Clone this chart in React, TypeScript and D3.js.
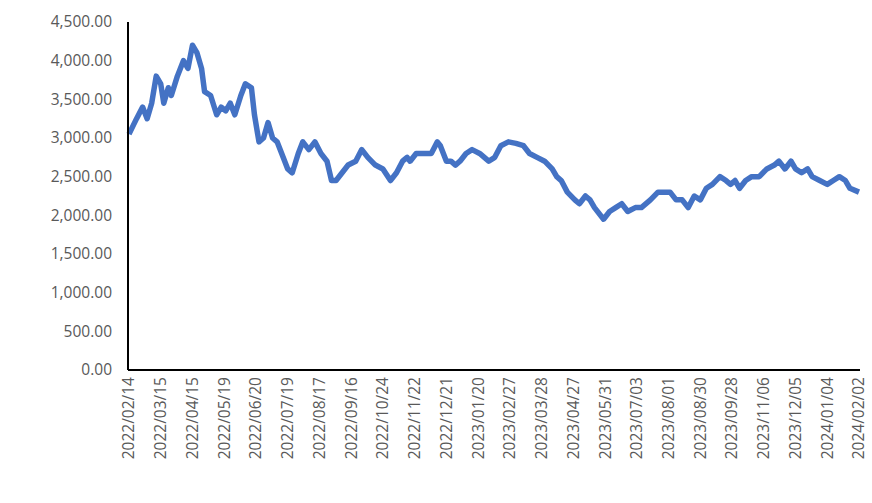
import React from "react";
import * as d3 from "d3";

const xLabels = ["2022/02/14","2022/03/15","2022/04/15","2022/05/19","2022/06/20","2022/07/19","2022/08/17","2022/09/16","2022/10/24","2022/11/22","2022/12/21","2023/01/20","2023/02/27","2023/03/28","2023/04/27","2023/05/31","2023/07/03","2023/08/01","2023/08/30","2023/09/28","2023/11/06","2023/12/05","2024/01/04","2024/02/02"];
const yTicks = [0,500,1000,1500,2000,2500,3000,3500,4000,4500];
// trading-day index (a label every 21 trading days)
const days = [
  0,5,9,12,15,18,21,23,26,28,
  32,36,39,42,45,48,50,54,58,61,
  64,67,70,74,77,81,83,86,89,92,
  95,98,102,105,108,112,115,119,123,127,
  131,134,137,141,145,150,154,158,163,168,
  173,177,181,184,186,190,195,200,204,206,
  210,213,216,219,223,227,232,238,242,246,
  251,256,261,265,270,275,280,283,286,290,
  295,298,302,305,308,314,318,322,326,330,
  335,339,345,350,354,358,362,366,370,374,
  378,382,386,391,395,398,401,404,408,412,
  417,422,427,430,434,438,441,445,449,452,
  457,462,466,470,474,477,483];
const values = [
  3050,3250,3400,3250,3450,3800,3700,3450,3650,3550,
  3800,4000,3900,4200,4100,3900,3600,3550,3300,3400,
  3350,3450,3300,3550,3700,3650,3300,2950,3000,3200,
  3000,2950,2750,2600,2550,2800,2950,2850,2950,2800,
  2700,2450,2450,2550,2650,2700,2850,2750,2650,2600,
  2450,2550,2700,2750,2700,2800,2800,2800,2950,2900,
  2700,2700,2650,2700,2800,2850,2800,2700,2750,2900,
  2950,2930,2900,2800,2750,2700,2600,2500,2450,2300,
  2200,2150,2250,2200,2100,1950,2050,2100,2150,2050,
  2100,2100,2200,2300,2300,2300,2200,2200,2100,2250,
  2200,2350,2400,2500,2450,2400,2450,2350,2450,2500,
  2500,2600,2650,2700,2600,2700,2600,2550,2600,2500,
  2450,2400,2450,2500,2450,2350,2300];

export default function App() {
  const pts: [number, number][] = days.map((d, i) => [d, values[i]]);
  const x = d3.scaleLinear().domain([0, 23 * 21]).range([129, 859]);
  const y = d3.scaleLinear().domain([0, 4500]).range([370, 22]);
  const line = d3.line<[number, number]>().x(d => x(d[0])).y(d => y(d[1]));
  const font = "Open Sans, Liberation Sans, sans-serif";
  return (
    <svg width={872} height={503} style={{ position: "absolute", left: 0, top: 0, background: "#fff" }}>
      {yTicks.map(t => (
        <text key={t} x={112} y={y(t)} dy="0.35em" textAnchor="end" fontFamily={font} fontSize={15.5} fill="#595959">
          {d3.format(",.2f")(t)}
        </text>
      ))}
      {xLabels.map((l, i) => (
        <text key={l} transform={`translate(${x(i * 21)},377) rotate(-90)`} dy="0.35em" textAnchor="end" fontFamily={font} fontSize={15.5} fill="#595959">
          {l}
        </text>
      ))}
      <path d={line(pts) || ""} fill="none" stroke="#4472c4" strokeWidth={5.5} strokeLinejoin="round" />
      <line x1={128} x2={128} y1={22} y2={370} stroke="#000" strokeWidth={2} />
      <line x1={128} x2={860} y1={370} y2={370} stroke="#000" strokeWidth={2} />
    </svg>
  );
}
